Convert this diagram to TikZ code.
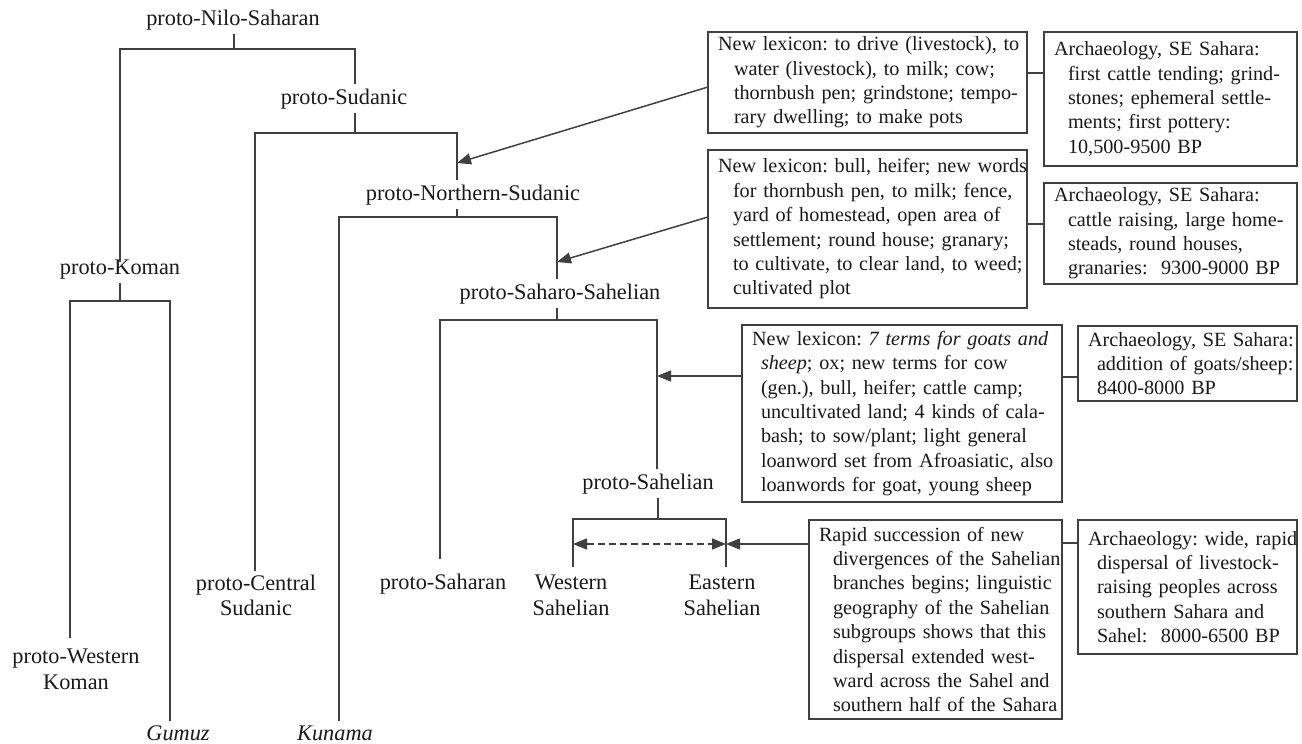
\documentclass[tikz,border=0pt]{standalone}
\usepackage{fontspec}
\setmainfont{Liberation Serif}
\usetikzlibrary{arrows.meta,calc}
% one unbreakable line of a box text, with an optional left indent
\newcommand\boxline[2][0pt]{\mbox{\hspace*{#1}#2}}
\begin{document}
\begin{tikzpicture}[x=1pt,y=-1pt,
  every node/.style={text=black!90},
  lbl/.style={inner sep=4pt, align=center, font=\fontsize{22.3}{25.2}\selectfont},
  infobox/.style={draw=black!75, line width=1.5pt, anchor=north west,
    inner xsep=10pt, inner ysep=2pt, align=left, outer sep=0pt,
    font=\fontsize{20.2}{24.4}\selectfont,
    execute at begin node=\frenchspacing},
  tree/.style={draw=black!75, line width=1.5pt},
  arr/.style={tree, -{Triangle[length=14pt,width=11pt]}},
  dblarr/.style={tree, dash pattern=on 7pt off 4pt,
    {Triangle[length=14pt,width=11pt]}-{Triangle[length=14pt,width=11pt]}},
]
\useasboundingbox (0,0) rectangle (1302,744);

% ---- language labels ----
\node[lbl, anchor=base]  (pns)    at (233,25)  {proto-Nilo-Saharan};
\node[lbl, anchor=base]  (psud)   at (344,104) {proto-Sudanic};
\node[lbl, anchor=base]  (pkom)   at (120,274) {proto-Koman};
\node[lbl, anchor=north] (pwk)    at (76,645)  {proto-Western\\Koman};
\node[lbl, anchor=base]  (gum)    at (178,740) {\itshape Gumuz};
\node[lbl, anchor=north] (pcs)    at (256,571) {proto-Central\\Sudanic};
\node[lbl, anchor=base]  (pnsud)  at (473,200) {proto-Northern-Sudanic};
\node[lbl, anchor=base]  (kun)    at (335,740) {\itshape Kunama};
\node[lbl, anchor=base]  (pss)    at (560,299) {proto-Saharo-Sahelian};
\node[lbl, anchor=base]  (psah)   at (443,589) {proto-Saharan};
\node[lbl, anchor=base]  (psahel) at (648,489) {proto-Sahelian};
\node[lbl, anchor=north] (ws)     at (571,571) {Western\\Sahelian};
\node[lbl, anchor=north] (es)     at (722,571) {Eastern\\Sahelian};

% ---- branching points ----
\coordinate (j1) at (234,49);  \coordinate (j1l) at (120,49);  \coordinate (j1r) at (355,49);
\coordinate (j2) at (355,133); \coordinate (j2l) at (255,133); \coordinate (j2r) at (457,133);
\coordinate (j3) at (457,217); \coordinate (j3l) at (339,217); \coordinate (j3r) at (557,217);
\coordinate (j4) at (120,301); \coordinate (j4l) at (70,301);  \coordinate (j4r) at (170,301);
\coordinate (j5) at (557,320); \coordinate (j5l) at (440,320); \coordinate (j5r) at (657,320);
\coordinate (j6) at (658,519); \coordinate (j6l) at (573,519); \coordinate (j6r) at (726,519);

% ---- tree ----
\draw[tree] (pns.south -| j1) -- (j1);
\draw[tree] ([yshift=-7pt]pkom.north) -- (j1l) -- (j1r) -- (psud.north -| j1r);

\draw[tree] (psud.south -| j2) -- (j2);
\draw[tree] (pcs.north -| j2l) -- (j2l) -- (j2r) -- (pnsud.north -| j2r);

\draw[tree] (pkom.south) -- (j4);
\draw[tree] ([yshift=7pt]pwk.north -| j4l) -- (j4l) -- (j4r) -- (gum.north -| j4r);

\draw[tree] (pnsud.south -| j3) -- (j3);
\draw[tree] (kun.north -| j3l) -- (j3l) -- (j3r) -- (pss.north -| j3r);

\draw[tree] (pss.south -| j5) -- (j5);
\draw[tree] ([yshift=10pt]psah.north -| j5l) -- (j5l) -- (j5r) -- (psahel.north -| j5r);

\draw[tree] (psahel.south -| j6) -- (j6);
\draw[tree] ([yshift=4pt]ws.north -| j6l) -- (j6l) -- (j6r) -- ([yshift=4pt]es.north -| j6r);

\coordinate (dl) at (573,544);
\coordinate (dr) at (726,544);
\draw[dblarr] (dl) -- (dr);

% ---- lexicon and archaeology boxes ----
\node[infobox, text width=299pt, minimum height=101pt] (b1) at (708,32)
 {\boxline{New lexicon: to drive (livestock), to}\\
  \boxline[16pt]{water (livestock), to milk; cow;}\\
  \boxline[16pt]{thornbush pen; grindstone; tempo-}\\
  \boxline[16pt]{rary dwelling; to make pots}};
\node[infobox, text width=233pt, minimum height=134pt] (b2) at (1044,32)
 {\boxline{Archaeology, SE Sahara:}\\
  \boxline[14pt]{first cattle tending; grind-}\\
  \boxline[14pt]{stones; ephemeral settle-}\\
  \boxline[14pt]{ments; first pottery:}\\
  \boxline[14pt]{10,500-9500 BP}};
\node[infobox, text width=299pt, minimum height=158pt] (b3) at (708,150)
 {\boxline{New lexicon: bull, heifer; new words}\\
  \boxline[15pt]{for thornbush pen, to milk; fence,}\\
  \boxline[15pt]{yard of homestead, open area of}\\
  \boxline[15pt]{settlement; round house; granary;}\\
  \boxline[15pt]{to cultivate, to clear land, to weed;}\\
  \boxline[15pt]{cultivated plot}};
\node[infobox, text width=233pt, minimum height=101pt] (b4) at (1044,183)
 {\boxline{Archaeology, SE Sahara:}\\
  \boxline[14pt]{cattle raising, large home-}\\
  \boxline[14pt]{steads, round houses,}\\
  \boxline[14pt]{granaries:\ \ 9300-9000 BP}};
\node[infobox, text width=300pt, minimum height=177pt] (b5) at (742,325)
 {\boxline{New lexicon: \textit{7 terms for goats and}}\\
  \boxline[9pt]{\textit{sheep}; ox; new terms for cow}\\
  \boxline[9pt]{(gen.), bull, heifer; cattle camp;}\\
  \boxline[9pt]{uncultivated land; 4 kinds of cala-}\\
  \boxline[9pt]{bash; to sow/plant; light general}\\
  \boxline[9pt]{loanword set from Afroasiatic, also}\\
  \boxline[9pt]{loanwords for goat, young sheep}};
\node[infobox, text width=199pt, minimum height=75pt] (b6) at (1078,326)
 {\boxline{Archaeology, SE Sahara:}\\
  \boxline[9pt]{addition of goats/sheep:}\\
  \boxline[9pt]{8400-8000 BP}};
\node[infobox, text width=233pt, minimum height=199pt] (b7) at (809,520)
 {\boxline{Rapid succession of new}\\
  \boxline[14pt]{divergences of the Sahelian}\\
  \boxline[14pt]{branches begins; linguistic}\\
  \boxline[14pt]{geography of the Sahelian}\\
  \boxline[14pt]{subgroups shows that this}\\
  \boxline[14pt]{dispersal extended west-}\\
  \boxline[14pt]{ward across the Sahel and}\\
  \boxline[14pt]{southern half of the Sahara}};
\node[infobox, text width=199pt, minimum height=134pt] (b8) at (1078,520)
 {\boxline{Archaeology: wide, rapid}\\
  \boxline[9pt]{dispersal of livestock-}\\
  \boxline[9pt]{raising peoples across}\\
  \boxline[9pt]{southern Sahara and}\\
  \boxline[9pt]{Sahel:\ \ 8000-6500 BP}};

% ---- box-to-box links ----
\coordinate (c1) at ($(b1.east)+(0,-9.5)$);
\draw[tree] (c1) -- (c1 -| b2.west);
\coordinate (c3) at ($(b3.east)+(0,-5)$);
\draw[tree] (c3) -- (c3 -| b4.west);
\coordinate (c5) at ($(b5.east)+(0,-36.5)$);
\draw[tree] (c5) -- (c5 -| b6.west);
\coordinate (c7) at ($(b7.east)+(0,-76.5)$);
\draw[tree] (c7) -- (c7 -| b8.west);

% ---- arrows from boxes onto the tree ----
\coordinate (t1) at (457,163);
\coordinate (t2) at (557,262);
\draw[arr] ($(b1.west)+(0,4.5)$) -- (t1);
\draw[arr] ($(b3.west)+(0,-12)$) -- (t2);
\coordinate (s5) at ($(b5.west)+(0,-37.5)$);
\draw[arr] (s5) -- (s5 -| j5r);
\coordinate (s7) at ($(b7.west)+(0,-75.5)$);
\draw[arr] (s7) -- (dr);
\end{tikzpicture}
\end{document}
